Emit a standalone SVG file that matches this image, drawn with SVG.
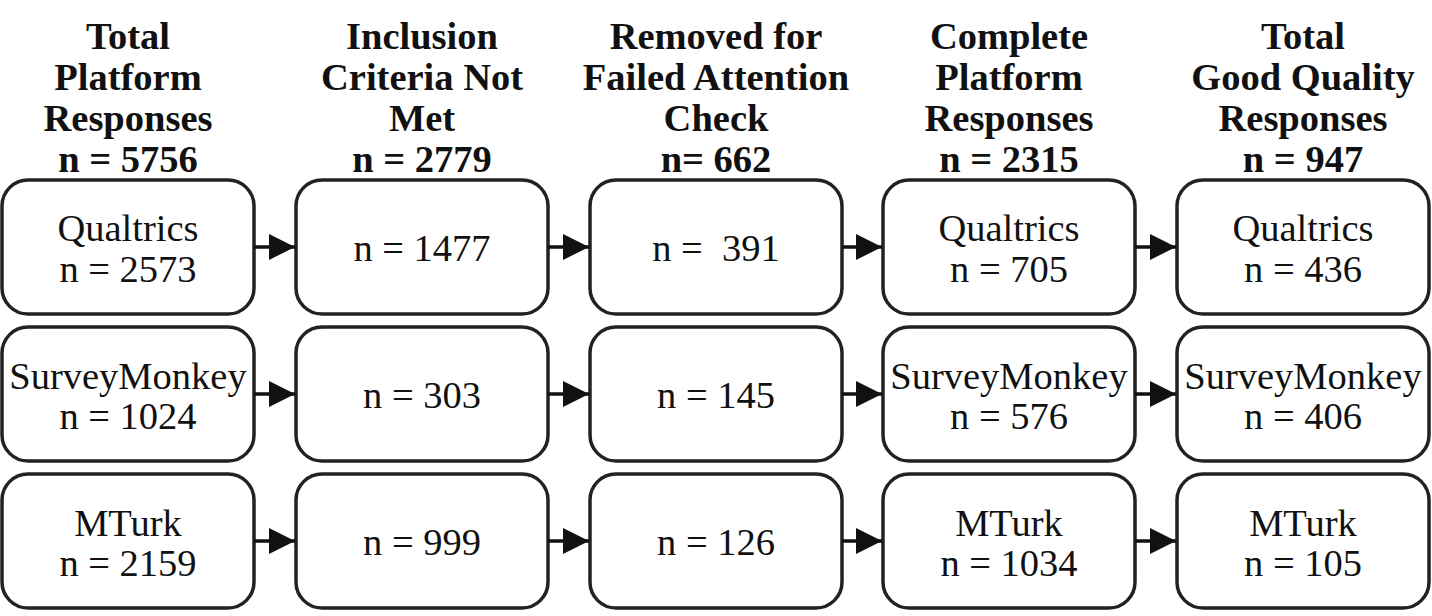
<svg xmlns="http://www.w3.org/2000/svg" width="1432" height="616" viewBox="0 0 1432 616">
<style>
.b{fill:#fff;stroke:#222;stroke-width:3.5}
.h{font-family:"Liberation Serif",serif;font-weight:bold;font-size:38.5px;text-anchor:middle;fill:#111}
.t{font-family:"Liberation Serif",serif;font-size:38.5px;text-anchor:middle;fill:#111}
.c{stroke:#111;stroke-width:3.5}
</style>
<defs>
<marker id="m" viewBox="0 0 10 10" refX="10" refY="5" markerWidth="26" markerHeight="26" markerUnits="userSpaceOnUse" orient="auto"><path d="M0,0L10,5L0,10z" fill="#111"/></marker></defs>
<g id="headers">
<text class="h" x="128" y="49">Total</text><text class="h" x="128" y="90">Platform</text><text class="h" x="128" y="131">Responses</text><text class="h" x="128" y="172">n = 5756</text>
<text class="h" x="422" y="49">Inclusion</text><text class="h" x="422" y="90">Criteria Not</text><text class="h" x="422" y="131">Met</text><text class="h" x="422" y="172">n = 2779</text>
<text class="h" x="716" y="49">Removed for</text><text class="h" x="716" y="90">Failed Attention</text><text class="h" x="716" y="131">Check</text><text class="h" x="716" y="172">n= 662</text>
<text class="h" x="1009" y="49">Complete</text><text class="h" x="1009" y="90">Platform</text><text class="h" x="1009" y="131">Responses</text><text class="h" x="1009" y="172">n = 2315</text>
<text class="h" x="1303" y="49">Total</text><text class="h" x="1303" y="90">Good Quality</text><text class="h" x="1303" y="131">Responses</text><text class="h" x="1303" y="172">n = 947</text>
</g>
<g id="r1c1"><rect class="b" x="2" y="180" width="252" height="134" rx="26"/><text class="t" x="128" y="241">Qualtrics</text><text class="t" x="128" y="282">n = 2573</text></g>
<g id="r1c2"><rect class="b" x="296" y="180" width="252" height="134" rx="26"/><text class="t" x="422" y="261">n = 1477</text></g>
<g id="r1c3"><rect class="b" x="590" y="180" width="252" height="134" rx="26"/><text class="t" x="716" y="261" xml:space="preserve">n =  391</text></g>
<g id="r1c4"><rect class="b" x="883" y="180" width="252" height="134" rx="26"/><text class="t" x="1009" y="241">Qualtrics</text><text class="t" x="1009" y="282">n = 705</text></g>
<g id="r1c5"><rect class="b" x="1177" y="180" width="252" height="134" rx="26"/><text class="t" x="1303" y="241">Qualtrics</text><text class="t" x="1303" y="282">n = 436</text></g>
<g id="r2c1"><rect class="b" x="2" y="327" width="252" height="134" rx="26"/><text class="t" x="128" y="389">SurveyMonkey</text><text class="t" x="128" y="429">n = 1024</text></g>
<g id="r2c2"><rect class="b" x="296" y="327" width="252" height="134" rx="26"/><text class="t" x="422" y="408">n = 303</text></g>
<g id="r2c3"><rect class="b" x="590" y="327" width="252" height="134" rx="26"/><text class="t" x="716" y="408">n = 145</text></g>
<g id="r2c4"><rect class="b" x="883" y="327" width="252" height="134" rx="26"/><text class="t" x="1009" y="389">SurveyMonkey</text><text class="t" x="1009" y="429">n = 576</text></g>
<g id="r2c5"><rect class="b" x="1177" y="327" width="252" height="134" rx="26"/><text class="t" x="1303" y="389">SurveyMonkey</text><text class="t" x="1303" y="429">n = 406</text></g>
<g id="r3c1"><rect class="b" x="2" y="474" width="252" height="134" rx="26"/><text class="t" x="128" y="536">MTurk</text><text class="t" x="128" y="576">n = 2159</text></g>
<g id="r3c2"><rect class="b" x="296" y="474" width="252" height="134" rx="26"/><text class="t" x="422" y="555">n = 999</text></g>
<g id="r3c3"><rect class="b" x="590" y="474" width="252" height="134" rx="26"/><text class="t" x="716" y="555">n = 126</text></g>
<g id="r3c4"><rect class="b" x="883" y="474" width="252" height="134" rx="26"/><text class="t" x="1009" y="536">MTurk</text><text class="t" x="1009" y="576">n = 1034</text></g>
<g id="r3c5"><rect class="b" x="1177" y="474" width="252" height="134" rx="26"/><text class="t" x="1303" y="536">MTurk</text><text class="t" x="1303" y="576">n = 105</text></g>
<g id="connectors">
<line class="c" x1="254" y1="247" x2="295" y2="247" marker-end="url(#m)"/>
<line class="c" x1="548" y1="247" x2="589" y2="247" marker-end="url(#m)"/>
<line class="c" x1="842" y1="247" x2="882" y2="247" marker-end="url(#m)"/>
<line class="c" x1="1135" y1="247" x2="1176" y2="247" marker-end="url(#m)"/>
<line class="c" x1="254" y1="394" x2="295" y2="394" marker-end="url(#m)"/>
<line class="c" x1="548" y1="394" x2="589" y2="394" marker-end="url(#m)"/>
<line class="c" x1="842" y1="394" x2="882" y2="394" marker-end="url(#m)"/>
<line class="c" x1="1135" y1="394" x2="1176" y2="394" marker-end="url(#m)"/>
<line class="c" x1="254" y1="541" x2="295" y2="541" marker-end="url(#m)"/>
<line class="c" x1="548" y1="541" x2="589" y2="541" marker-end="url(#m)"/>
<line class="c" x1="842" y1="541" x2="882" y2="541" marker-end="url(#m)"/>
<line class="c" x1="1135" y1="541" x2="1176" y2="541" marker-end="url(#m)"/>
</g>
</svg>
